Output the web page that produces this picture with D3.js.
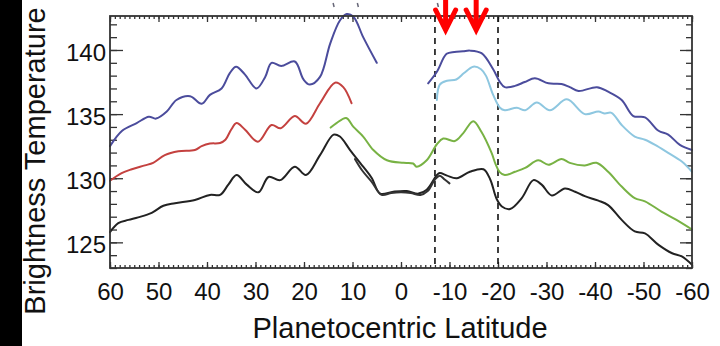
<!DOCTYPE html>
<meta charset="utf-8">
<style>
body { margin: 0; background: #fff; }
svg { display: block; font-family: Arial, "Liberation Sans", sans-serif; }
.line { fill: none; stroke-width: 2; stroke-linejoin: round; stroke-linecap: round; }
.axis path { display: none; }
.axis line { stroke: #333; stroke-width: 1.3; }
.axis text { font-size: 24px; fill: #111; }
</style>
<body>
<svg width="720" height="346"></svg>
<script src="https://d3js.org/d3.v7.min.js"></script>
<script>

// [planetocentric latitude, brightness temperature]
var purpleNorth = [[60,132.5],[57.5,133.7],[54.5,134.3],[52,134.8],[50.5,134.65],[48.3,135.2],[46.3,136.1],[43.5,136.4],[41.1,135.8],[39.4,136.5],[37,137.0],[35.3,138.2],[34,138.7],[32.2,138.1],[29.8,137.0],[28,137.9],[26.7,139.0],[24.7,138.75],[21.9,139.1],[20.1,137.7],[18.8,137.3],[16.7,137.9],[14.6,140.5],[12.6,142.3],[11.2,142.8],[9.8,142.6],[7.8,141.0],[5.0,139.0]];
var purpleSouth = [[-5.6,137.4],[-7.4,138.3],[-9.4,139.7],[-11,139.85],[-12.8,139.9],[-14.2,139.95],[-16.6,139.75],[-19,138.5],[-20.4,137.5],[-21.4,137.1],[-23.5,137.2],[-25.5,137.5],[-27.6,137.8],[-30.4,137.4],[-33.1,137.35],[-34.8,137.1],[-36.6,136.8],[-40.4,137.1],[-42.7,136.75],[-45.5,136.1],[-47.9,134.85],[-50.3,134.75],[-53.1,133.7],[-55.1,133.4],[-57.5,132.6],[-60,132.2]];
var lightBlue = [[-7.4,136.1],[-8,137.3],[-9.5,137.6],[-11.4,137.7],[-13,138.2],[-14.9,138.7],[-16.5,138.5],[-17.5,138.0],[-19,136.5],[-20.4,135.5],[-21.4,135.3],[-23.9,135.5],[-25.6,135.3],[-28,135.9],[-30.7,135.3],[-34.2,136.15],[-37.9,135.0],[-40.7,135.2],[-42,135.05],[-43.4,135.1],[-45.5,134.15],[-48.2,133.25],[-50.3,133.0],[-52.4,132.6],[-55,132.0],[-57.9,131.3],[-60,130.5]];
var red = [[60,129.8],[57.6,130.4],[55.5,130.7],[52.8,131.0],[51.1,131.2],[48.7,131.8],[45.9,132.1],[42.5,132.2],[41.1,132.5],[39.4,132.7],[37.3,132.75],[36.2,133.0],[35,133.8],[33.9,134.3],[32.2,133.8],[29.5,132.85],[26.7,134.15],[24.8,133.9],[21.9,134.85],[19.6,134.25],[16.7,135.85],[13.6,137.45],[11.9,137.1],[10.2,135.85]];
var green = [[14.5,133.95],[13.3,134.3],[11.3,134.7],[9.8,134.0],[7.8,133.25],[5.7,132.2],[2.9,131.4],[-0.5,131.2],[-2.5,131.15],[-3.2,130.9],[-5.3,131.4],[-7.4,132.65],[-8.7,133.1],[-11.1,132.9],[-12.8,133.5],[-14.9,134.45],[-16.6,133.6],[-18.7,131.95],[-19.5,131.1],[-20.3,130.5],[-21.4,130.25],[-23.5,130.5],[-25.6,130.8],[-28.3,131.4],[-30.4,131.05],[-33.1,131.5],[-34.8,131.2],[-37.9,131.0],[-40.3,131.2],[-42.7,130.5],[-45.5,129.35],[-48.2,128.45],[-50.3,128.2],[-53.7,127.4],[-56.8,126.75],[-60,126.0]];
var black = [[60,125.8],[58.3,126.5],[56.2,126.75],[54.2,126.95],[51.4,127.3],[49,127.85],[46.6,128.05],[42.5,128.3],[39.4,128.7],[37.3,128.7],[35.6,129.5],[33.9,130.25],[31.8,129.5],[29.4,128.9],[27.3,130.1],[24.9,129.85],[21.9,130.9],[19.6,130.25],[16.7,131.8],[13.9,133.4],[12.6,133.25],[10.5,132.2],[7.8,130.9],[6,130.0],[4.3,128.8],[1.6,128.95],[-1.2,129.0],[-3.6,128.8],[-5.3,129.1],[-7.4,130.25],[-8,130.4],[-9.5,130.2],[-11.5,130.0],[-14.2,130.5],[-17,130.7],[-18.4,129.9],[-19.7,128.4],[-20.8,127.8],[-22.5,127.6],[-24.9,128.45],[-27.3,129.85],[-29,129.5],[-31.1,128.65],[-33.8,129.2],[-35.9,128.95],[-37.9,128.6],[-40.7,128.25],[-42.7,127.9],[-45.5,126.75],[-48.2,125.85],[-50.3,125.7],[-53.1,124.8],[-55.9,124.15],[-57.9,123.9],[-60,123.25]];
var black2 = [[9.5,131.5],[8,130.6],[6,129.7],[4,128.7],[2,128.85],[0,128.9],[-2,128.85],[-4,128.7],[-5.5,129.0],[-7,129.9],[-8,130.2],[-9,129.9],[-10,129.6]];

var xTicks = [60, 50, 40, 30, 20, 10, 0, -10, -20, -30, -40, -50, -60];
var yTicks = [125, 130, 135, 140];
var dashedLats = [-7, -20];
var arrowLats = [-9.2, -15.5];
var topMarkLats = [14, 9, -7.5];   // tiny leftover marks above the frame

var series = [
    {data: black, color: "#222"},
    {data: black2, color: "#333"},
    {data: green, color: "#78b244"},
    {data: red, color: "#c4413f"},
    {data: lightBlue, color: "#8ec7e0"},
    {data: purpleNorth, color: "#4b4c9c"},
    {data: purpleSouth, color: "#4b4c9c"}
];

var svg = d3.select("svg"),
    margin = {top: 16, right: 28, bottom: 78, left: 110},
    width = +svg.attr("width") - margin.left - margin.right,
    height = +svg.attr("height") - margin.top - margin.bottom;

// black strip on the left edge of the screenshot
svg.append("rect").attr("x", 0).attr("y", 0).attr("width", 22).attr("height", 346).attr("fill", "#000");

var g = svg.append("g").attr("transform", "translate(" + margin.left + "," + margin.top + ")");

var x = d3.scaleLinear().domain([60, -60]).range([0, width]);
var y = d3.scaleLinear().domain([123.0, 142.65]).range([height, 0]);

var fmt = function(d) { return String(d); };

// minor ticks
g.append("g").attr("class", "axis").attr("transform", "translate(0," + height + ")")
    .call(d3.axisBottom(x).tickValues(d3.range(-60, 61)).tickSize(-3).tickFormat(""));
g.append("g").attr("class", "axis")
    .call(d3.axisTop(x).tickValues(d3.range(-60, 61)).tickSize(-3).tickFormat(""));
g.append("g").attr("class", "axis")
    .call(d3.axisLeft(y).tickValues(d3.range(123, 143)).tickSize(-7).tickFormat(""));
g.append("g").attr("class", "axis").attr("transform", "translate(" + width + ",0)")
    .call(d3.axisRight(y).tickValues(d3.range(123, 143)).tickSize(-6).tickFormat(""));

// major ticks
g.append("g").attr("class", "axis").attr("transform", "translate(0," + height + ")")
    .call(d3.axisBottom(x).tickValues(xTicks).tickSize(-6).tickPadding(15).tickFormat(fmt));
g.append("g").attr("class", "axis")
    .call(d3.axisTop(x).tickValues(xTicks).tickSize(-6).tickFormat(""));
g.append("g").attr("class", "axis")
    .call(d3.axisLeft(y).tickValues(yTicks).tickSize(-13).tickPadding(4).tickFormat(fmt))
    .selectAll("text").attr("dy", "0.42em");
g.append("g").attr("class", "axis").attr("transform", "translate(" + width + ",0)")
    .call(d3.axisRight(y).tickValues(yTicks).tickSize(-12).tickFormat(""));

// dashed latitude markers
g.selectAll(".dash")
    .data(dashedLats)
    .enter().append("line")
    .attr("x1", function(d) { return x(d); })
    .attr("x2", function(d) { return x(d); })
    .attr("y1", 0).attr("y2", height)
    .attr("stroke", "#111").attr("stroke-width", 1.6)
    .attr("stroke-dasharray", "6,5");

var line = d3.line()
    .x(function(d) { return x(d[0]); })
    .y(function(d) { return y(d[1]); })
    .curve(d3.curveCatmullRom);

g.selectAll(".line")
    .data(series)
    .enter().append("path")
    .attr("class", "line")
    .attr("stroke", function(d) { return d.color; })
    .attr("d", function(d) { return line(d.data); });

// frame
g.append("rect").attr("width", width).attr("height", height)
    .attr("fill", "none").attr("stroke", "#333").attr("stroke-width", 1.8);

// small marks above the frame
svg.selectAll(".mark")
    .data(topMarkLats)
    .enter().append("line")
    .attr("x1", function(d) { return margin.left + x(d); })
    .attr("x2", function(d) { return margin.left + x(d) + 1; })
    .attr("y1", 3).attr("y2", 7)
    .attr("stroke", "#667").attr("stroke-width", 1.5);

// red arrows
svg.selectAll(".arrow")
    .data(arrowLats)
    .enter().append("path")
    .attr("d", function(d) {
        var cx = margin.left + x(d);
        return "M" + cx + ",0V29M" + (cx - 10) + ",10L" + cx + ",30L" + (cx + 10) + ",10";
    })
    .attr("fill", "none").attr("stroke", "#ff0000").attr("stroke-width", 5)
    .attr("stroke-linecap", "round");

// axis titles
svg.append("text")
    .attr("x", margin.left + width / 2 - 1).attr("y", 338)
    .attr("text-anchor", "middle").attr("font-size", 29).attr("fill", "#111")
    .text("Planetocentric Latitude");

svg.append("text")
    .attr("transform", "translate(45,161) rotate(-90)")
    .attr("text-anchor", "middle").attr("font-size", 29).attr("fill", "#111")
    .text("Brightness Temperature");

</script>
